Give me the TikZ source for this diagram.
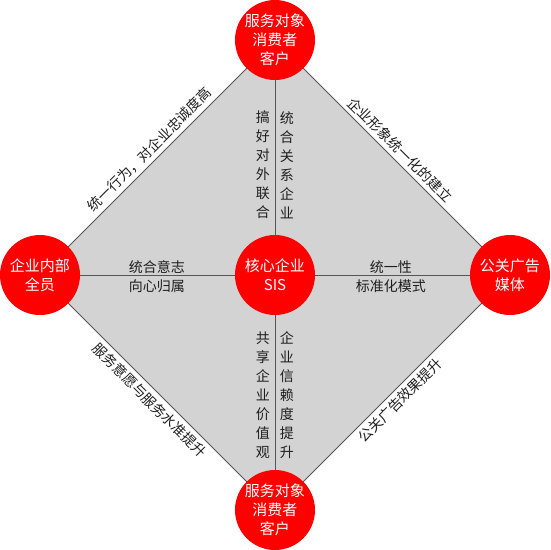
\documentclass[tikz,border=0pt]{standalone}
\usepackage{fontspec}
\setmainfont{Noto Sans CJK SC}
\usetikzlibrary{backgrounds}
\definecolor{diamondgray}{RGB}{211,211,211}
\definecolor{edgegray}{RGB}{85,85,85}
\definecolor{labeltext}{RGB}{30,30,30}

\begin{document}
\begin{tikzpicture}[node distance=235pt,semithick]
  \tikzstyle{party}=[circle,fill=red,text=white,minimum size=80pt,inner sep=0pt,
                     align=center,font=\fontsize{15}{19}\selectfont]
  \tikzstyle{link}=[draw=edgegray,line width=0.9pt]
  \tikzstyle{hlabel}=[text=labeltext,align=center,font=\fontsize{14}{19}\selectfont]
  \tikzstyle{vlabel}=[hlabel,inner sep=0pt]
  \tikzstyle{slabel}=[text=labeltext,sloped,font=\fontsize{14}{16}\selectfont,inner sep=4pt]

  \useasboundingbox (-275pt,-275pt) rectangle (275pt,275pt);

  \node[party] (sis)                          {核心企业\\SIS};
  \node[party] (clienttop) [above of=sis]     {服务对象\\消费者\\客户};
  \node[party] (clientbot) [below of=sis]     {服务对象\\消费者\\客户};
  \node[party] (staff)     [left of=sis]      {企业内部\\全员};
  \node[party] (media)     [right of=sis]     {公关广告\\媒体};

  \node[vlabel] (outward)  at (-12pt,110pt)   {搞\\好\\对\\外\\联\\合};
  \node[vlabel] (allies)   at (12pt,110pt)    {统\\合\\关\\系\\企\\业};
  \node[vlabel] (values)   at (-12pt,-120pt)  {共\\享\\企\\业\\价\\值\\观};
  \node[vlabel] (trust)    at (12pt,-120pt)   {企\\业\\信\\赖\\度\\提\\升};
  \node[hlabel] (will)     at (-118pt,-2pt)   {统合意志\\向心归属};
  \node[hlabel] (standard) at (116pt,-2pt)    {统一性\\标准化模式};

  \begin{pgfonlayer}{background}
    \fill[diamondgray] (clienttop.center) -- (media.center) -- (clientbot.center)
      -- (staff.center) -- cycle;
    \path[link]
      (staff.center) edge node[slabel,above] {统一行为，对企业忠诚度高} (clienttop.center)
      (clienttop.center) edge node[slabel,above] {企业形象统一化的建立} (media.center)
      (clientbot.center) edge node[slabel,below] {公关广告效果提升} (media.center)
      (staff.center) edge node[slabel,below] {服务意愿与服务水准提升} (clientbot.center)
      (sis.center) edge (clienttop.center)
      (sis.center) edge (clientbot.center)
      (sis.center) edge (staff.center)
      (sis.center) edge (media.center);
  \end{pgfonlayer}
\end{tikzpicture}
\end{document}
